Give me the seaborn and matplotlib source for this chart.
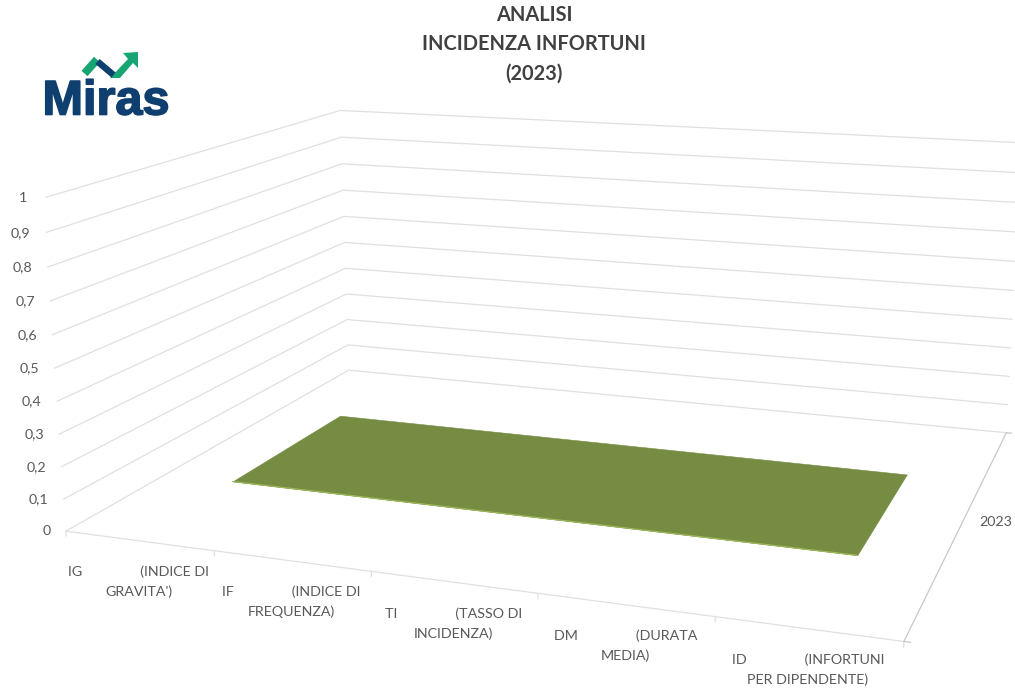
import numpy as np
import matplotlib
matplotlib.use('Agg')
import matplotlib.pyplot as plt
import matplotlib.patheffects as pe
import seaborn as sns
from mpl_toolkits.mplot3d import proj3d

title = "ANALISI\nINCIDENZA INFORTUNI\n(2023)"
categories = [
    "IG" + " " * 16 + "(INDICE DI\nGRAVITA')",
    "IF" + " " * 16 + "(INDICE DI\nFREQUENZA)",
    "TI" + " " * 16 + "(TASSO DI\nINCIDENZA)",
    "DM" + " " * 16 + "(DURATA\nMEDIA)",
    "ID" + " " * 16 + "(INFORTUNI\nPER DIPENDENTE)",
]
series = ["2023"]
values = [0, 0, 0, 0, 0]
z_levels = [0, 0.1, 0.2, 0.3, 0.4, 0.5, 0.6, 0.7, 0.8, 0.9, 1]
z_labels = ["0", "0,1", "0,2", "0,3", "0,4", "0,5", "0,6", "0,7", "0,8", "0,9", "1"]

W, H = 1015, 690
grid_col = "#e0e0e0"
axis_col = "#c8c8c8"
text_col = "#595959"
green = "#768c43"
navy = "#0f3f6e"
logo_green = "#17a673"

sns.set_theme(style="white")
plt.rcParams['font.family'] = ['Lato', 'DejaVu Sans']

fig = plt.figure(figsize=(W / 100, H / 100), dpi=100, facecolor="white")
ax = fig.add_subplot(projection='3d', computed_zorder=False)
ax.set_xlim(0, len(categories))
ax.set_ylim(0, 1)
ax.set_zlim(0, 1)
ax.view_init(14.091, -70.163, 0.235)
ax.set_proj_type('persp', focal_length=0.3591)
ax.set_box_aspect((2.4896, 1.9030, 1))
ax.set_axis_off()

# place the axes so the box lands where it does in the picture
s, tx, ty = 5513.74, 569.60, 326.44
x0, x1 = ax.viewLim.intervalx
y0, y1 = ax.viewLim.intervaly
ax.set_position([(tx + s * x0) / W, (H - ty + s * y0) / H, s * (x1 - x0) / W, s * (y1 - y0) / H])

n = len(categories)
centers = np.arange(n) + 0.5

# walls
for z in z_levels:
    ax.plot([0, 0, n], [0, 1, 1], [z, z, z], color=grid_col, lw=0.9, zorder=1)

# floor edges and ticks
ax.plot([0, n], [0, 0], [0, 0], color=grid_col, lw=0.9, zorder=1)
ax.plot([n, n], [0, 1], [0, 0], color=axis_col, lw=0.9, zorder=1)
for i in range(n + 1):
    ax.plot([i, i], [0, 0], [0, -0.016], color=grid_col, lw=0.9, zorder=1)
for d in [0, 1]:
    ax.plot([n, n + 0.035], [d, d], [0, 0], color=axis_col, lw=0.9, zorder=1)

# the surface: one series, all values at zero
depth = [0.3, 0.705]
surf_x = np.linspace(0.48, n - 0.48, n)
X, Y = np.meshgrid(surf_x, depth)
Z = np.vstack([values, values])
ax.plot_surface(X, Y, Z, color=green, edgecolor=green, shade=False, linewidth=0.4,
                rstride=1, cstride=n - 1, zorder=3)
ax.plot(surf_x, [depth[0]] * n, values, color="#9dbb55", lw=0.8, zorder=4)

M = ax.get_proj()

def to_view(x, y, z):
    vx, vy, _ = proj3d.proj_transform(x, y, z, M)
    return float(vx), float(vy)

for z, lab in zip(z_levels, z_labels):
    ax.annotate(lab, to_view(0, 0, z), xytext=(-10.8, 0), textcoords='offset points',
                ha='right', va='center', fontsize=10.3, color=text_col, annotation_clip=False)

for c, lab in zip(centers, categories):
    ax.annotate(lab, to_view(c, 0, 0), xytext=(0, -29.7), textcoords='offset points',
                ha='center', va='center', fontsize=10.3, color=text_col,
                multialignment='center', linespacing=1.7, annotation_clip=False)

ax.annotate(series[0], to_view(n, 0.5, 0), xytext=(23.5, -0.5), textcoords='offset points',
            ha='center', va='center', fontsize=10.3, color=text_col, annotation_clip=False)

# overlay in pixels for title and logo
top = fig.add_axes([0, 0, 1, 1], facecolor='none')
top.text(534, 44.5, title, ha='center', va='center', fontsize=14.4, fontweight='bold',
         color="#404040", linespacing=1.58)

sns.lineplot(x=[84.5, 97], y=[73.5, 59.5], sort=False, color=logo_green, lw=5.8, ax=top, solid_capstyle='butt')
sns.lineplot(x=[97.5, 113.5], y=[61.5, 75], sort=False, color=navy, lw=4.7, ax=top, solid_capstyle='butt')
top.fill([110, 120, 133, 138, 138, 123, 128], [78, 78, 63, 68, 52, 53, 59], color=logo_green, lw=0)
top.set_xlim(0, W)
top.set_ylim(H, 0)
top.axis('off')
top.text(106, 114.5, "Miras", ha='center', va='baseline', fontsize=35, fontweight='bold',
         family='Liberation Sans', color=navy,
         path_effects=[pe.withStroke(linewidth=1.2, foreground=navy)])

fig.savefig('out.png', dpi=100)
